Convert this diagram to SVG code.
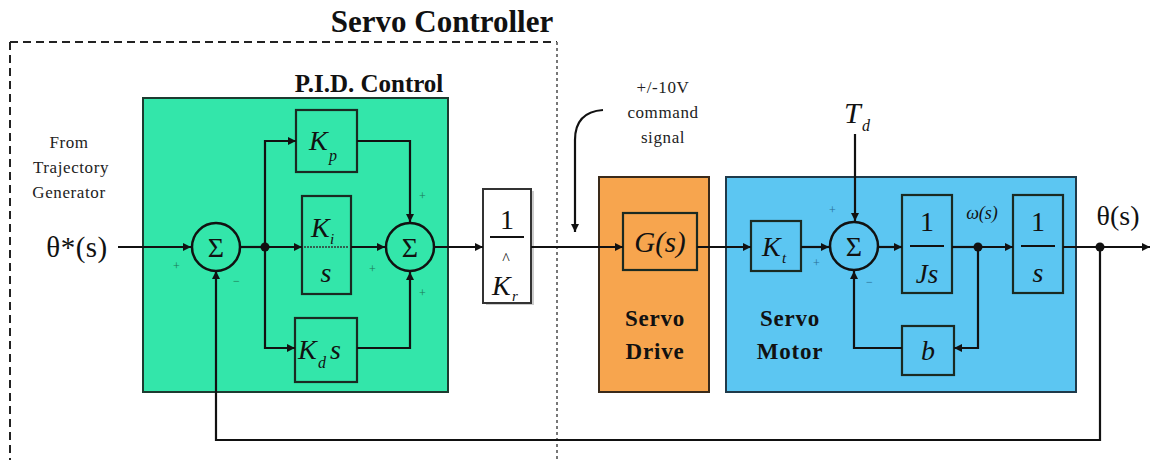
<svg xmlns="http://www.w3.org/2000/svg" width="1150" height="460" viewBox="0 0 1150 460" font-family="'Liberation Serif', 'Times New Roman', serif">
<style>
.ln{fill:none;stroke:#111;stroke-width:2.2}
.arr{fill:none;stroke:#111;stroke-width:2.2;marker-end:url(#ah)}
.blk{stroke:#1a2a22;stroke-width:2.2}
.sum{stroke:#111;stroke-width:2.5}
.t{fill:#111}
.it{font-style:italic;fill:#111}
.b{font-weight:bold;fill:#111}
.sg{font-size:12px}
.sgG{fill:#1d7a55}
.sgB{fill:#2a6f94}
.dot{fill:#111}
.sm{font-size:17px;letter-spacing:0.6px;fill:#222}
.sig{font-size:28px;fill:#111}
</style>
<defs>
<marker id="ah" viewBox="0 0 10 10" refX="10" refY="5" markerWidth="10" markerHeight="8" markerUnits="userSpaceOnUse" orient="auto">
<path d="M0,0 L10,5 L0,10 z" fill="#111"/>
</marker>
</defs>
<rect width="1150" height="460" fill="#fff"/>

<g id="servo-controller">
<text class="b" x="442" y="32" font-size="31" text-anchor="middle">Servo Controller</text>
<path d="M10,42 L557,42" fill="none" stroke="#222" stroke-width="2" stroke-dasharray="8,5"/>
<path d="M10,42 L10,460" fill="none" stroke="#222" stroke-width="2" stroke-dasharray="8,5"/>
<path d="M557,42 L557,460" fill="none" stroke="#777" stroke-width="2" stroke-dasharray="3,3"/>
</g>

<g id="pid">
<rect x="143" y="98" width="305" height="294" fill="#33E6AA" stroke="#1d3b30" stroke-width="2"/>
<text class="b" x="369" y="92" font-size="25" text-anchor="middle">P.I.D. Control</text>
</g>

<g id="input-label">
<text class="sm" text-anchor="middle" x="69" y="148">From</text>
<text class="sm" text-anchor="middle" x="71" y="173">Trajectory</text>
<text class="sm" text-anchor="middle" x="69" y="198">Generator</text>
<text class="t" font-size="29" text-anchor="middle" x="77" y="257" letter-spacing="0.5">θ*(s)</text>
</g>

<g id="sum1">
<circle cx="216" cy="247" r="24" fill="#33E6AA" class="sum"/>
<text class="sig" text-anchor="middle" x="216" y="257">Σ</text>
<text class="sg sgG" x="173" y="270">+</text>
<text class="sg sgG" x="233" y="285">−</text>
</g>

<g id="kp">
<rect x="296" y="110" width="61" height="62" fill="#33E6AA" class="blk"/>
<text class="it" font-size="28" x="309" y="150">K</text>
<text class="it" font-size="16" x="329" y="161">p</text>
</g>

<g id="ki">
<rect x="302" y="196" width="49" height="98" fill="#33E6AA" class="blk"/>
<text class="it" font-size="28" x="311" y="237">K</text>
<text class="it" font-size="15" x="330" y="244">i</text>
<text class="it" font-size="28" x="326" y="282" text-anchor="middle">s</text>
<line x1="304" y1="247" x2="349" y2="247" stroke="#333" stroke-width="1.5" stroke-dasharray="2,1"/>
</g>

<g id="kd">
<rect x="295" y="318" width="62" height="64" fill="#33E6AA" class="blk"/>
<text class="it" font-size="28" x="298" y="359">K</text>
<text class="it" font-size="16" x="318" y="368">d</text>
<text class="it" font-size="28" x="330" y="359">s</text>
</g>

<g id="sum2">
<circle cx="410" cy="247" r="24" fill="#33E6AA" class="sum"/>
<text class="sig" text-anchor="middle" x="410" y="257">Σ</text>
<text class="sg sgG" x="419" y="200">+</text>
<text class="sg sgG" x="369" y="273">+</text>
<text class="sg sgG" x="419" y="297">+</text>
</g>

<g id="kr">
<rect x="486" y="191" width="48" height="114" fill="#ccc"/>
<rect x="483" y="189" width="48" height="114" fill="#fff" stroke="#333" stroke-width="2"/>
<text class="t" font-size="28" text-anchor="middle" x="507" y="229">1</text>
<line x1="490" y1="237" x2="524" y2="237" stroke="#111" stroke-width="2"/>
<text class="t" font-size="16" text-anchor="middle" x="506" y="264">^</text>
<text class="it" font-size="28" x="492" y="295">K</text>
<text class="it" font-size="15" x="512" y="301">r</text>
</g>

<g id="command-label">
<text class="sm" text-anchor="middle" x="663" y="93">+/-10V</text>
<text class="sm" text-anchor="middle" x="663" y="118">command</text>
<text class="sm" text-anchor="middle" x="663" y="143">signal</text>
</g>

<g id="servo-drive">
<rect x="599" y="177" width="110" height="215" fill="#F7A54E" stroke="#3a2a1a" stroke-width="2"/>
<rect x="623" y="213" width="74" height="57" fill="#F7A54E" class="blk"/>
<text class="it" font-size="29" text-anchor="middle" x="660" y="252">G(s)</text>
<text class="b" font-size="23" text-anchor="middle" x="655" y="326" letter-spacing="0.8">Servo</text>
<text class="b" font-size="23" text-anchor="middle" x="655" y="359" letter-spacing="0.8">Drive</text>
</g>

<g id="servo-motor">
<rect x="726" y="177" width="350" height="215" fill="#5CC6F2" stroke="#1f3a4a" stroke-width="2"/>
<text class="b" font-size="23" text-anchor="middle" x="790" y="326" letter-spacing="0.8">Servo</text>
<text class="b" font-size="23" text-anchor="middle" x="790" y="359" letter-spacing="0.8">Motor</text>
</g>

<g id="kt">
<rect x="751" y="221" width="50" height="50" fill="#5CC6F2" class="blk"/>
<text class="it" font-size="28" x="762" y="256">K</text>
<text class="it" font-size="15" x="782" y="263">t</text>
</g>

<g id="td-label">
<text class="it" font-size="30" x="844" y="123">T</text>
<text class="it" font-size="16" x="862" y="131">d</text>
</g>

<g id="sum3">
<circle cx="854" cy="246" r="24" fill="#5CC6F2" class="sum"/>
<text class="sig" text-anchor="middle" x="854" y="256">Σ</text>
<text class="sg sgB" x="829" y="214">+</text>
<text class="sg sgB" x="813" y="267">+</text>
<text class="sg sgB" x="866" y="286">−</text>
</g>

<g id="inertia">
<rect x="902" y="195" width="50" height="98" fill="#5CC6F2" class="blk"/>
<text class="t" font-size="28" text-anchor="middle" x="927" y="231">1</text>
<line x1="910" y1="246" x2="944" y2="246" stroke="#111" stroke-width="2"/>
<text class="it" font-size="27" text-anchor="middle" x="927" y="283">Js</text>
</g>

<g id="omega-label">
<text class="it" font-size="18" text-anchor="middle" x="982" y="219">ω(s)</text>
</g>

<g id="integrator">
<rect x="1013" y="195" width="50" height="98" fill="#5CC6F2" class="blk"/>
<text class="t" font-size="28" text-anchor="middle" x="1038" y="231">1</text>
<line x1="1021" y1="246" x2="1055" y2="246" stroke="#111" stroke-width="2"/>
<text class="it" font-size="28" text-anchor="middle" x="1038" y="282">s</text>
</g>

<g id="damping">
<rect x="902" y="326" width="52" height="49" fill="#5CC6F2" class="blk"/>
<text class="it" font-size="28" text-anchor="middle" x="928" y="360">b</text>
</g>

<g id="output-label">
<text class="t" font-size="28" text-anchor="middle" x="1118" y="225">θ(s)</text>
</g>

<g id="connectors">
<line class="arr" x1="118" y1="247" x2="191" y2="247"/>
<line class="ln" x1="240" y1="247" x2="265" y2="247"/>
<line class="arr" x1="265" y1="247" x2="302" y2="247"/>
<polyline class="arr" points="265,247 265,141 296,141"/>
<polyline class="arr" points="265,247 265,348 295,348"/>
<polyline class="arr" points="357,141 410,141 410,222"/>
<polyline class="arr" points="357,348 410,348 410,272"/>
<line class="arr" x1="351" y1="247" x2="385" y2="247"/>
<line class="arr" x1="434" y1="247" x2="483" y2="247"/>
<line class="arr" x1="531" y1="247" x2="623" y2="247"/>
<path class="arr" d="M603,110 Q575,112 575,140 L575,232"/>
<line class="arr" x1="697" y1="247" x2="751" y2="247"/>
<line class="arr" x1="801" y1="247" x2="829" y2="247"/>
<line class="arr" x1="855" y1="134" x2="855" y2="221"/>
<line class="arr" x1="878" y1="247" x2="902" y2="247"/>
<line class="ln" x1="952" y1="247" x2="978" y2="247"/>
<line class="arr" x1="978" y1="247" x2="1013" y2="247"/>
<polyline class="arr" points="978,247 978,348 954,348"/>
<polyline class="arr" points="902,348 854,348 854,271"/>
<line class="ln" x1="1063" y1="247" x2="1100" y2="247"/>
<line class="arr" x1="1100" y1="247" x2="1150" y2="247"/>
<polyline class="arr" points="1100,247 1100,440 216,440 216,271"/>
<circle class="dot" cx="265" cy="247" r="4.5"/>
<circle class="dot" cx="978" cy="247" r="4.5"/>
<circle class="dot" cx="1100" cy="247" r="4.5"/>
</g>
</svg>
